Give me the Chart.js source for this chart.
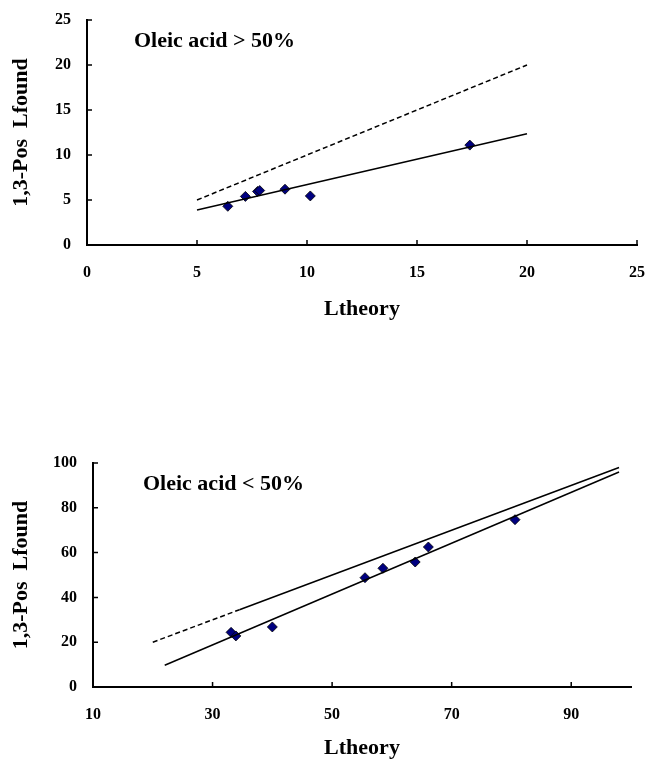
<!DOCTYPE html>
<html>
<head>
<meta charset="utf-8">
<script src="https://cdn.jsdelivr.net/npm/chart.js@4"></script>
<style>
  body { margin: 0; background: #fff; }
  .box { position: absolute; left: 0; width: 648px; }
  #top { top: 0; height: 380px; }
  #bottom { top: 380px; height: 379px; }
</style>
</head>
<body>
<div class="box" id="top"><canvas id="chartTop"></canvas></div>
<div class="box" id="bottom"><canvas id="chartBottom"></canvas></div>
<script>
// data: oleic acid > 50%
const highTheory = [6.4, 7.2, 7.75, 7.85, 9.0, 10.15, 17.4];
const highFound = [4.3, 5.4, 5.95, 6.05, 6.2, 5.45, 11.1];
const highFitX = [5, 20];
const highFitY = [3.9, 12.35];
const highIdentX = [5, 20];
const highXTicks = [0, 5, 10, 15, 20, 25];
const highYTicks = [0, 5, 10, 15, 20, 25];

// data: oleic acid < 50%
const lowTheory = [33.1, 33.9, 40.0, 55.5, 58.5, 63.9, 66.1, 80.6];
const lowFound = [24.4, 22.8, 26.8, 48.8, 53.0, 55.8, 62.5, 74.7];
const lowFitX = [22, 98];
const lowFitY = [9.7, 96];
const lowIdentDashX = [20, 34.5];
const lowIdentSolidX = [34.5, 98];
const lowXTicks = [10, 30, 50, 70, 90];
const lowYTicks = [0, 20, 40, 60, 80, 100];

const serif = "'Liberation Serif', 'Times New Roman', serif";

function pts(xs, ys) {
    return xs.map((x, i) => ({x: x, y: ys[i]}));
}

function lineSet(data, dash) {
    return {
        data: data,
        showLine: true,
        pointRadius: 0,
        borderColor: '#000',
        borderWidth: 1.5,
        borderDash: dash,
        fill: false,
    };
}

function markerSet(data) {
    return {
        data: data,
        pointStyle: 'rectRot',
        pointRadius: 5,
        pointBackgroundColor: '#000080',
        pointBorderColor: '#000',
        pointBorderWidth: 0.8,
        showLine: false,
    };
}

//short tick marks pointing into the plot
const innerTicks = {
    id: 'innerTicks',
    afterDraw(chart) {
        const ctx = chart.ctx;
        const xs = chart.scales.x, ys = chart.scales.y;
        ctx.save();
        ctx.strokeStyle = '#000';
        ctx.lineWidth = 1.5;
        ctx.beginPath();
        xs.ticks.forEach(t => {
            if (t.value === xs.min) return;
            const px = xs.getPixelForValue(t.value);
            ctx.moveTo(px, xs.top);
            ctx.lineTo(px, xs.top - 5);
        });
        ys.ticks.forEach(t => {
            if (t.value === ys.min) return;
            const py = ys.getPixelForValue(t.value);
            ctx.moveTo(ys.right, py);
            ctx.lineTo(ys.right + 5, py);
        });
        ctx.stroke();
        ctx.restore();
    }
};

//group label inside the plot
const noteText = {
    id: 'noteText',
    afterDraw(chart, args, opts) {
        const ctx = chart.ctx;
        ctx.save();
        ctx.font = 'bold 22px ' + serif;
        ctx.fillStyle = '#000';
        ctx.textBaseline = 'middle';
        ctx.fillText(opts.text, opts.x, opts.y);
        ctx.restore();
    }
};

function noPad(s) {
    s.paddingLeft = 0;
    s.paddingRight = 0;
    s.paddingTop = 0;
    s.paddingBottom = 0;
}

function makeOptions(cfg) {
    const tickFont = {family: serif, size: 16, weight: 'bold'};
    const titleFont = {family: serif, size: 22, weight: 'bold', lineHeight: 1};
    return {
        responsive: true,
        maintainAspectRatio: false,
        animation: false,
        layout: {padding: {top: cfg.padTop, right: cfg.padRight, left: 0, bottom: 0}},
        plugins: {
            legend: {display: false},
            tooltip: {enabled: false},
            noteText: cfg.note,
        },
        scales: {
            x: {
                type: 'linear',
                min: cfg.xTicks[0],
                max: cfg.xMax,
                grid: {display: false, drawTicks: false},
                border: {display: true, color: '#000', width: 2},
                ticks: {padding: 18, color: '#000', font: tickFont},
                afterBuildTicks: s => { s.ticks = cfg.xTicks.map(v => ({value: v})); },
                title: {display: true, text: 'Ltheory', color: '#000', font: titleFont, padding: {top: 0, bottom: cfg.xTitlePad}},
                afterFit: s => { s.height = cfg.xHeight; noPad(s); },
            },
            y: {
                type: 'linear',
                min: 0,
                max: cfg.yTicks[cfg.yTicks.length - 1],
                grid: {display: false, drawTicks: false},
                border: {display: true, color: '#000', width: 2},
                ticks: {padding: 16, color: '#000', font: tickFont},
                afterBuildTicks: s => { s.ticks = cfg.yTicks.map(v => ({value: v})); },
                title: {display: true, text: '1,3-Pos  Lfound', color: '#000', font: titleFont, padding: {top: 10, bottom: 0}},
                afterFit: s => { s.width = cfg.yWidth; noPad(s); },
            },
        },
    };
}

new Chart(document.getElementById('chartTop'), {
    type: 'scatter',
    data: {
        datasets: [
            lineSet(pts(highIdentX, highIdentX), [5, 3]),
            lineSet(pts(highFitX, highFitY), []),
            markerSet(pts(highTheory, highFound)),
        ]
    },
    options: makeOptions({
        padTop: 20, padRight: 11, yWidth: 87, xHeight: 135,
        xTicks: highXTicks, xMax: 25, yTicks: highYTicks, xTitlePad: 60,
        note: {text: 'Oleic acid > 50%', x: 134, y: 41},
    }),
    plugins: [innerTicks, noteText],
});

new Chart(document.getElementById('chartBottom'), {
    type: 'scatter',
    data: {
        datasets: [
            lineSet(pts(lowIdentDashX, lowIdentDashX), [5, 3]),
            lineSet(pts(lowIdentSolidX, lowIdentSolidX), []),
            lineSet(pts(lowFitX, lowFitY), []),
            markerSet(pts(lowTheory, lowFound)),
        ]
    },
    options: makeOptions({
        padTop: 83, padRight: 17, yWidth: 93, xHeight: 72,
        xTicks: lowXTicks, xMax: 100, yTicks: lowYTicks, xTitlePad: 0,
        note: {text: 'Oleic acid < 50%', x: 143, y: 104},
    }),
    plugins: [innerTicks, noteText],
});
</script>
</body>
</html>
